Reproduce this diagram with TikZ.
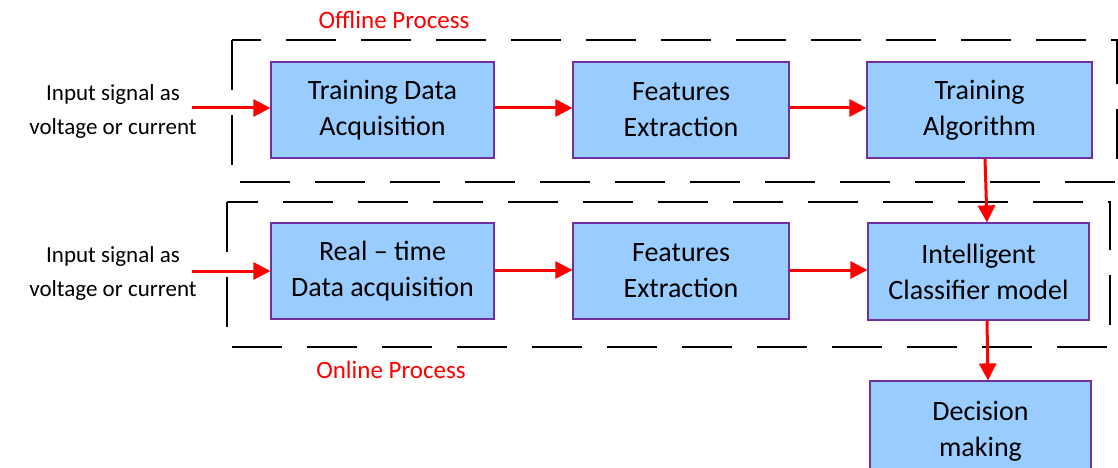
\documentclass[tikz,border=0pt]{standalone}
\usepackage{fontspec}
\setmainfont{Carlito}
\usetikzlibrary{arrows.meta}
\definecolor{boxfill}{RGB}{153,204,255}
\definecolor{boxline}{RGB}{112,48,160}
\tikzset{
  blockbox/.style={draw=boxline, line width=1.2pt, fill=boxfill, minimum width=223pt,
    minimum height=96pt, align=center, inner sep=0pt,
    font=\fontsize{28}{36}\selectfont},
  flow/.style={draw=red, line width=3pt, -{Triangle[length=17pt,width=17pt]}},
  framebox/.style={draw=black, line width=2pt, dash pattern=on 50pt off 25pt},
  inputtext/.style={align=center, font=\fontsize{23}{34}\selectfont},
  framelabel/.style={text=red, font=\fontsize{25}{28}\selectfont}
}
\begin{document}
\begin{tikzpicture}[x=1pt,y=-1pt]
   \useasboundingbox (0,0) rectangle (1118,468);
   %% dashed frames
   \draw[framebox] (232,40) rectangle (1117,182);
   \draw[framebox] (227,202) rectangle (1110,347);
   \node[framelabel] (offlabel) at (394,20) {Offline Process};
   \node[framelabel] (onlabel) at (391,370) {Online Process};

   %% blocks
   \node[blockbox] (TrainAcq) at (382.5,110) {Training Data\\Acquisition};
   \node[blockbox, minimum width=216pt] (FeatOff) at (681,110) {Features\\Extraction};
   \node[blockbox, minimum width=225pt] (TrainAlg) at (979.5,110) {Training\\Algorithm};
   \node[blockbox] (RealAcq) at (382.5,271) {Real -- time\\Data acquisition};
   \node[blockbox, minimum width=216pt] (FeatOn) at (681,271) {Features\\Extraction};
   \node[blockbox, minimum width=221pt, minimum height=97pt] (Classifier) at (978.5,271.5) {Intelligent\\Classifier model};
   \node[blockbox, minimum width=221pt, minimum height=100pt] (Decision) at (980.5,431) {Decision\\making};

   %% inputs
   \node[inputtext] (InOff) at (113,111) {Input signal as\\voltage or current};
   \node[inputtext] (InOn) at (113,273) {Input signal as\\voltage or current};
   \coordinate (InOffEnd) at (192,108);
   \coordinate (InOnEnd) at (192,271);

   %% connectors
   \draw[flow] (InOffEnd) -- (TrainAcq.west |- InOffEnd);
   \draw[flow] (InOnEnd) -- (RealAcq.west |- InOnEnd);
   \draw[flow] (TrainAcq.east |- 0,108) -- (FeatOff.west |- 0,108);
   \draw[flow] (FeatOff.east |- 0,108) -- (TrainAlg.west |- 0,108);
   \draw[flow] (RealAcq.east |- 0,270) -- (FeatOn.west |- 0,270);
   \draw[flow] (FeatOn.east |- 0,270) -- (Classifier.west |- 0,270);
   \draw[flow] (TrainAlg.south -| 985,0) -- (Classifier.north -| 987,0);
   \draw[flow] (Classifier.south -| 987,0) -- (Decision.north -| 988,0);
\end{tikzpicture}
\end{document}
